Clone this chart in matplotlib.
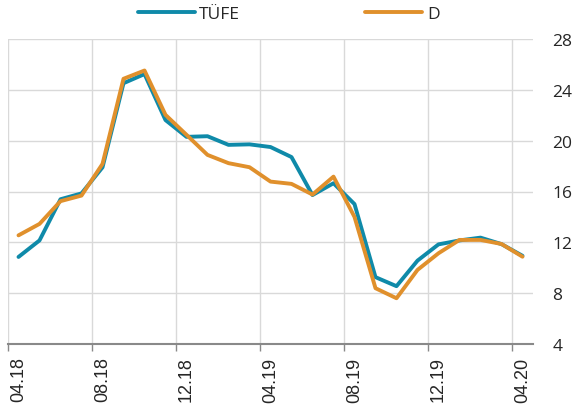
import matplotlib
matplotlib.use("Agg")
import matplotlib.pyplot as plt
import numpy as np

months = ["04.18", "05.18", "06.18", "07.18", "08.18", "09.18", "10.18", "11.18", "12.18",
          "01.19", "02.19", "03.19", "04.19", "05.19", "06.19", "07.19", "08.19", "09.19",
          "10.19", "11.19", "12.19", "01.20", "02.20", "03.20", "04.20"]
tufe = [10.85, 12.15, 15.39, 15.85, 17.90, 24.52, 25.24, 21.62, 20.30, 20.35, 19.67, 19.71,
        19.50, 18.71, 15.72, 16.65, 15.01, 9.26, 8.55, 10.56, 11.84, 12.15, 12.37, 11.86, 10.94]
d = [12.55, 13.45, 15.24, 15.68, 18.17, 24.87, 25.52, 22.03, 20.46, 18.88, 18.23, 17.91,
     16.78, 16.60, 15.76, 17.17, 14.00, 8.39, 7.60, 9.83, 11.14, 12.19, 12.19, 11.87, 10.87]
yticks = [4, 8, 12, 16, 20, 24, 28]

teal = "#0f8aa9"
orange = "#e0902c"

fig = plt.figure(figsize=(5.77, 4.14), dpi=100)
ax = fig.add_axes([8/577, (414-345)/414, (533-8)/577, (345-40)/414])

x = np.arange(len(months))
ax.plot(x, tufe, color=teal, lw=2.8, solid_capstyle="round", solid_joinstyle="round", label="TÜFE", zorder=3)
ax.plot(x, d, color=orange, lw=2.8, solid_capstyle="round", solid_joinstyle="round", label="D", zorder=4)

ax.set_xlim(-0.5, len(months) - 0.5)
ax.set_ylim(4, 28)

# y axis on the right
ax.yaxis.tick_right()
ax.set_yticks(yticks)
ax.set_yticklabels([str(v) for v in yticks], fontfamily="Open Sans", fontsize=12.5, color="#262626", ha="left")
ax.tick_params(axis="y", length=0, pad=14)
ax.grid(axis="y", color="#d9d9d9", lw=1.0)

# x axis
major = list(range(0, len(months), 4))
ax.set_xticks(major)
ax.set_xticklabels([months[i] for i in major], rotation=90, fontfamily="Liberation Sans",
                   fontsize=13, color="#262626", va="top")
ax.tick_params(axis="x", which="major", length=0, pad=9)
ax.set_xticks(np.arange(-0.5, len(months) - 1, 4), minor=True)
ax.tick_params(axis="x", which="minor", length=5, width=1.0, color="#898989", direction="out")
ax.grid(axis="x", which="minor", color="#d9d9d9", lw=1.0)

for s in ["top", "right", "left"]:
    ax.spines[s].set_visible(False)
ax.spines["bottom"].set_color("#898989")
ax.spines["bottom"].set_linewidth(1.5)
ax.spines["bottom"].set_zorder(5)
ax.set_axisbelow(True)

leg = fig.legend(loc="upper center", bbox_to_anchor=(0.5, 1.022), ncol=2, frameon=False,
                 handlelength=3.3, handletextpad=0.25, columnspacing=7.2,
                 prop={"family": "Open Sans", "size": 12.5})
for t in leg.get_texts():
    t.set_color("#262626")

fig.savefig("out.png", dpi=100)
